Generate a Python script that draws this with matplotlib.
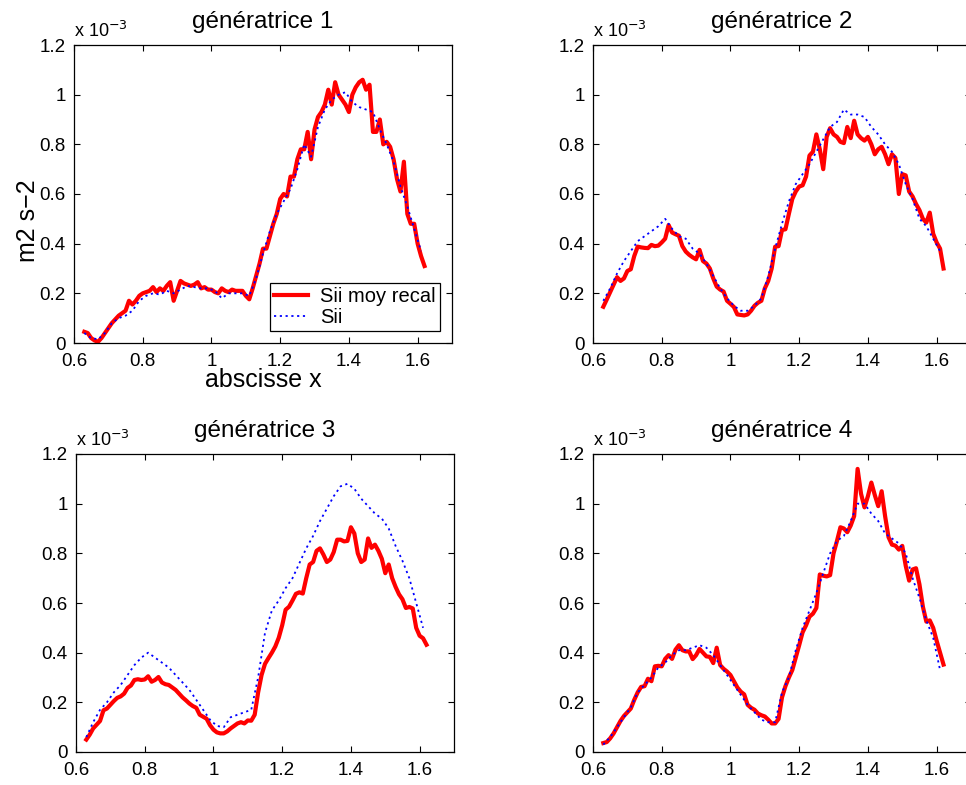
import numpy as np
import matplotlib
matplotlib.use("Agg")
import matplotlib.pyplot as plt

plt.rcParams['font.family'] = ['Liberation Sans', 'DejaVu Sans']

# abscisses (x) : red curves every 0.01, blue curves every 0.02
x_red = np.round(np.arange(63, 163) / 100, 2)
x_blue = np.round(np.arange(63, 163, 2) / 100, 2)

titles = ["génératrice 1", "génératrice 2", "génératrice 3", "génératrice 4"]
x_ticks = [0.6, 0.8, 1.0, 1.2, 1.4, 1.6]
x_ticklabels = ["0.6", "0.8", "1", "1.2", "1.4", "1.6"]
y_ticks = [0, 0.2, 0.4, 0.6, 0.8, 1.0, 1.2]
y_ticklabels = ["0", "0.2", "0.4", "0.6", "0.8", "1", "1.2"]

# valeurs en unites de 1e-3 m2 s-2
red_1 = [0.045, 0.04, 0.02, 0.01, 0.005, 0.02, 0.04, 0.06, 0.08, 0.095,
         0.11, 0.12, 0.13, 0.17, 0.155, 0.17, 0.19, 0.2, 0.205, 0.21,
         0.225, 0.205, 0.22, 0.21, 0.23, 0.245, 0.17, 0.21, 0.25, 0.24,
         0.235, 0.23, 0.235, 0.245, 0.22, 0.225, 0.215, 0.215, 0.205, 0.2,
         0.22, 0.21, 0.205, 0.215, 0.21, 0.21, 0.21, 0.19, 0.176, 0.22,
         0.27, 0.32, 0.38, 0.38, 0.43, 0.48, 0.52, 0.58, 0.6, 0.59,
         0.67, 0.67, 0.74, 0.78, 0.78, 0.85, 0.74, 0.86, 0.91, 0.93,
         0.96, 1.02, 0.96, 1.05, 1.0, 0.98, 0.96, 0.93, 1.0, 1.03,
         1.05, 1.06, 1.02, 1.04, 0.85, 0.85, 0.9, 0.8, 0.81, 0.79,
         0.74, 0.66, 0.61, 0.73, 0.52, 0.48, 0.48, 0.40, 0.35, 0.31]
blue_1 = [0.04, 0.02, 0.015, 0.04, 0.08, 0.1, 0.11, 0.13, 0.17, 0.19,
          0.2, 0.195, 0.21, 0.2, 0.215, 0.23, 0.225, 0.22, 0.22, 0.21,
          0.18, 0.2, 0.2, 0.2, 0.19, 0.26, 0.36, 0.45, 0.52, 0.57,
          0.62, 0.7, 0.8, 0.75, 0.87, 0.94, 0.98, 1.0, 1.01, 0.97,
          0.95, 0.94, 0.93, 0.86, 0.8, 0.73, 0.63, 0.55, 0.46, 0.37]

red_2 = [0.146, 0.175, 0.205, 0.235, 0.265, 0.25, 0.26, 0.29, 0.297, 0.35,
         0.388, 0.385, 0.383, 0.382, 0.395, 0.39, 0.392, 0.405, 0.42, 0.475,
         0.445, 0.438, 0.432, 0.39, 0.368, 0.355, 0.345, 0.337, 0.375, 0.33,
         0.32, 0.3, 0.26, 0.227, 0.215, 0.207, 0.17, 0.158, 0.145, 0.115,
         0.113, 0.111, 0.115, 0.13, 0.15, 0.162, 0.17, 0.22, 0.25, 0.3,
         0.388, 0.39, 0.455, 0.458, 0.52, 0.58, 0.61, 0.63, 0.635, 0.67,
         0.755, 0.77, 0.84, 0.78, 0.70, 0.83, 0.865, 0.84, 0.83, 0.81,
         0.805, 0.87, 0.825, 0.895, 0.84, 0.825, 0.815, 0.83, 0.8, 0.76,
         0.78, 0.79, 0.76, 0.72, 0.76, 0.745, 0.6, 0.68, 0.675, 0.61,
         0.59, 0.56, 0.535, 0.5, 0.485, 0.525, 0.44, 0.405, 0.38, 0.3]
blue_2 = [0.17, 0.22, 0.28, 0.33, 0.37, 0.41, 0.43, 0.45, 0.47, 0.5,
          0.46, 0.43, 0.42, 0.38, 0.36, 0.32, 0.27, 0.22, 0.18, 0.15,
          0.13, 0.13, 0.15, 0.18, 0.27, 0.38, 0.48, 0.57, 0.64, 0.68,
          0.72, 0.77, 0.82, 0.87, 0.89, 0.94, 0.92, 0.92, 0.91, 0.87,
          0.84, 0.8, 0.77, 0.72, 0.64, 0.58, 0.5, 0.47, 0.42, 0.37]

red_3 = [0.05, 0.07, 0.095, 0.11, 0.125, 0.168, 0.175, 0.19, 0.205, 0.218,
         0.224, 0.235, 0.258, 0.268, 0.29, 0.293, 0.29, 0.292, 0.305, 0.283,
         0.29, 0.302, 0.28, 0.273, 0.27, 0.26, 0.25, 0.235, 0.22, 0.208,
         0.195, 0.185, 0.178, 0.15, 0.142, 0.134, 0.108, 0.09, 0.079, 0.075,
         0.075, 0.083, 0.095, 0.105, 0.115, 0.12, 0.115, 0.127, 0.126, 0.15,
         0.24, 0.31, 0.355, 0.378, 0.4, 0.425, 0.46, 0.51, 0.573, 0.585,
         0.61, 0.637, 0.643, 0.638, 0.7, 0.755, 0.765, 0.81, 0.82, 0.795,
         0.765, 0.775, 0.805, 0.855, 0.855, 0.848, 0.85, 0.905, 0.88, 0.8,
         0.765, 0.775, 0.86, 0.822, 0.835, 0.81, 0.778, 0.72, 0.755, 0.7,
         0.665, 0.635, 0.615, 0.58, 0.584, 0.578, 0.5, 0.468, 0.458, 0.432]
blue_3 = [0.06, 0.12, 0.17, 0.2, 0.24, 0.27, 0.31, 0.35, 0.38, 0.40,
          0.38, 0.36, 0.34, 0.31, 0.28, 0.25, 0.21, 0.17, 0.13, 0.105,
          0.1, 0.14, 0.15, 0.16, 0.17, 0.3, 0.48, 0.57, 0.61, 0.66,
          0.7, 0.76, 0.82, 0.87, 0.93, 0.98, 1.03, 1.07, 1.08, 1.06,
          1.02, 0.99, 0.96, 0.94, 0.9, 0.83, 0.77, 0.7, 0.6, 0.5]

red_4 = [0.036, 0.04, 0.055, 0.075, 0.1, 0.125, 0.145, 0.16, 0.175, 0.21,
         0.24, 0.262, 0.265, 0.295, 0.285, 0.345, 0.347, 0.345, 0.375, 0.39,
         0.375, 0.412, 0.43, 0.41, 0.405, 0.405, 0.374, 0.39, 0.415, 0.4,
         0.385, 0.383, 0.358, 0.42, 0.35, 0.335, 0.324, 0.31, 0.285, 0.26,
         0.243, 0.232, 0.19, 0.178, 0.17, 0.155, 0.148, 0.143, 0.13, 0.115,
         0.115, 0.133, 0.22, 0.265, 0.3, 0.33, 0.38, 0.43, 0.482, 0.51,
         0.545, 0.557, 0.58, 0.715, 0.71, 0.707, 0.712, 0.8, 0.85, 0.905,
         0.9, 0.885, 0.912, 0.95, 1.14, 1.04, 0.985, 1.03, 1.085, 1.035,
         0.99, 1.05, 0.95, 0.865, 0.835, 0.831, 0.815, 0.83, 0.75, 0.69,
         0.735, 0.74, 0.675, 0.585, 0.525, 0.53, 0.5, 0.448, 0.4, 0.352]
blue_4 = [0.03, 0.06, 0.1, 0.14, 0.18, 0.24, 0.27, 0.3, 0.34, 0.36,
          0.39, 0.41, 0.41, 0.42, 0.43, 0.42, 0.39, 0.35, 0.31, 0.27,
          0.23, 0.19, 0.16, 0.13, 0.12, 0.12, 0.24, 0.3, 0.41, 0.5,
          0.57, 0.64, 0.72, 0.8, 0.85, 0.87, 0.93, 1.0, 1.0, 0.96,
          0.93, 0.88, 0.86, 0.84, 0.8, 0.7, 0.62, 0.53, 0.46, 0.33]

reds = [red_1, red_2, red_3, red_4]
blues = [blue_1, blue_2, blue_3, blue_4]

fig = plt.figure(figsize=(9.66, 7.85), dpi=100)
W, H = 966, 785
# boites des axes en pixels (gauche, haut)
boxes = [(74, 45), (593, 45), (76, 454), (593, 454)]
aw, ah = 378, 298

for i in range(4):
    left, top = boxes[i]
    ax = fig.add_axes([left / W, (H - top - ah) / H, aw / W, ah / H])
    ax.plot(x_red, reds[i], color='red', lw=3.0, label='Sii moy recal')
    ax.plot(x_blue, blues[i], color='blue', lw=1.3, ls=(0, (1.2, 2.0)), label='Sii')
    ax.set_xlim(0.6, 1.7)
    ax.set_ylim(0, 1.2)
    ax.set_xticks(x_ticks)
    ax.set_xticklabels(x_ticklabels)
    ax.set_yticks(y_ticks)
    ax.set_yticklabels(y_ticklabels)
    ax.tick_params(direction='in', top=True, right=True, labelsize=13.5,
                   length=4, width=0.8)
    ax.tick_params(axis='x', pad=7)
    ax.tick_params(axis='y', pad=6)
    for sp in ax.spines.values():
        sp.set_linewidth(0.9)
    ax.set_title(titles[i], fontsize=17.5, pad=12)
    ax.text(0.0, 1.015, r'x 10$^{-3}$', transform=ax.transAxes,
            fontsize=13, ha='left', va='bottom')
    if i == 0:
        ax.set_ylabel('m2 s\u22122', fontsize=18)
        ax.yaxis.set_label_coords(-0.09, 0.41)
        ax.set_xlabel('abscisse x', fontsize=18, labelpad=-1)
        leg = ax.legend(loc='lower right', fontsize=14.5, frameon=True,
                        fancybox=False, edgecolor='black', framealpha=1,
                        handlelength=1.7, borderpad=0.2, labelspacing=0.1,
                        handletextpad=0.6, borderaxespad=0.6)
        leg.get_frame().set_linewidth(0.9)

fig.savefig('out.png', dpi=100)
